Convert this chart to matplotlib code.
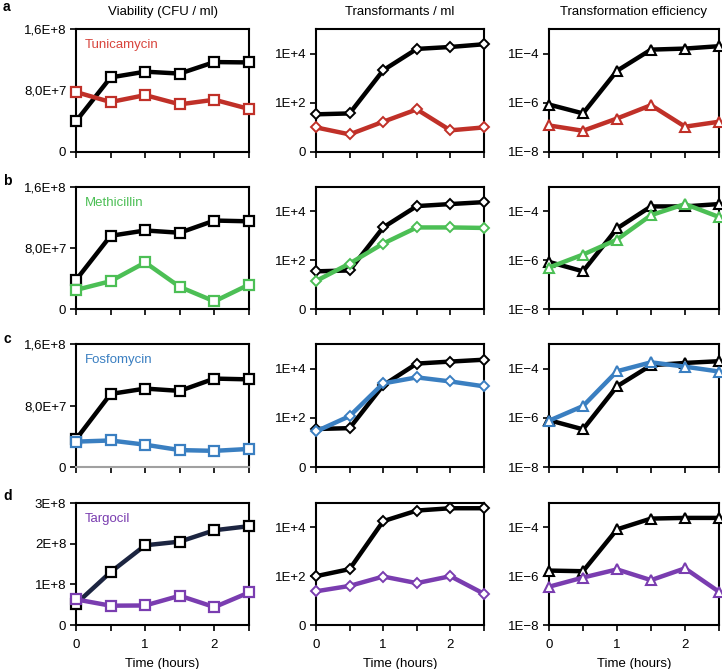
import matplotlib
matplotlib.use("Agg")
import matplotlib.pyplot as plt
import numpy as np

plt.rcParams['font.family'] = ['Liberation Sans', 'DejaVu Sans']

time = [0, 0.5, 1, 1.5, 2, 2.5]
panel_letters = ['a', 'b', 'c', 'd']
drugs = ['Tunicamycin', 'Methicillin', 'Fosfomycin', 'Targocil']
col_titles = ['Viability (CFU / ml)', 'Transformants / ml', 'Transformation efficiency']

# Viability (CFU/ml)
via_ctrl = [
    [4.0e7, 9.7e7, 1.045e8, 1.02e8, 1.17e8, 1.165e8],
    [3.8e7, 9.6e7, 1.03e8, 1.0e8, 1.16e8, 1.15e8],
    [3.6e7, 9.5e7, 1.02e8, 9.9e7, 1.15e8, 1.14e8],
    [5.2e7, 1.30e8, 1.96e8, 2.05e8, 2.33e8, 2.43e8],
]
via_drug = [
    [7.8e7, 6.5e7, 7.4e7, 6.2e7, 6.8e7, 5.6e7],
    [2.5e7, 3.65e7, 6.1e7, 2.9e7, 1.0e7, 3.2e7],
    [3.3e7, 3.45e7, 2.9e7, 2.2e7, 2.1e7, 2.35e7],
    [6.3e7, 4.75e7, 4.8e7, 7.2e7, 4.4e7, 8.0e7],
]
# Transformants / ml
trf_ctrl = [
    [34, 37, 2100, 15500, 18600, 24000],
    [35, 38, 2200, 16500, 20000, 24000],
    [35, 38, 2100, 16000, 19300, 23000],
    [100, 195, 18000, 49000, 61000, 61000],
]
trf_drug = [
    [10, 5.2, 17, 54, 7.6, 10],
    [14, 73, 480, 2200, 2200, 2100],
    [28, 117, 2500, 4400, 3000, 1900],
    [24, 40, 97, 52, 100, 19],
]
# Transformation efficiency
eff_ctrl = [
    [8.5e-7, 3.7e-7, 2.0e-5, 1.45e-4, 1.6e-4, 2.0e-4],
    [8.5e-7, 3.5e-7, 2.0e-5, 1.6e-4, 1.6e-4, 2.0e-4],
    [8.0e-7, 3.4e-7, 1.9e-5, 1.37e-4, 1.7e-4, 2.0e-4],
    [1.7e-6, 1.6e-6, 8.3e-5, 2.3e-4, 2.45e-4, 2.45e-4],
]
eff_drug = [
    [1.2e-7, 7.3e-8, 2.3e-7, 8.0e-7, 1.07e-7, 1.7e-7],
    [5.0e-7, 1.7e-6, 7.0e-6, 7.0e-5, 2.0e-4, 5.9e-5],
    [7.6e-7, 3.0e-6, 7.8e-5, 1.8e-4, 1.2e-4, 7.6e-5],
    [3.7e-7, 8.8e-7, 1.9e-6, 6.9e-7, 2.1e-6, 2.3e-7],
]

drug_colors = ['#c03028', '#4cbf55', '#3a7fc1', '#7a3db0']
label_colors = ['#d8443c', '#4cbf55', '#3a7fc1', '#7a3db0']

via_ticks = [[0, 8e7, 1.6e8], [0, 8e7, 1.6e8], [0, 8e7, 1.6e8], [0, 1e8, 2e8, 3e8]]
via_ticklabels = [['0', '8,0E+7', '1,6E+8']] * 3 + [['0', '1E+8', '2E+8', '3E+8']]
via_ylim = [1.6e8, 1.6e8, 1.6e8, 3e8]
trf_ticks = [1, 1e2, 1e4]
trf_ticklabels = ['0', '1E+2', '1E+4']
eff_ticks = [1e-8, 1e-6, 1e-4]
eff_ticklabels = ['1E\u22128', '1E\u22126', '1E\u22124']

W, H = 722, 669
fig = plt.figure(figsize=(W / 100, H / 100), dpi=100)

col_x = [(76, 249), (316, 484), (549, 719)]
row_y = [(29, 152), (187, 309), (344, 467), (503, 625)]
letter_y = [7, 181, 339, 496]

FS = 9.5

def make_ax(r, c):
    x0, x1 = col_x[c]
    y0, y1 = row_y[r]
    ax = fig.add_axes([x0 / W, 1 - y1 / H, (x1 - x0) / W, (y1 - y0) / H])
    for s in ax.spines.values():
        s.set_linewidth(1.5)
        s.set_color('black')
    ax.tick_params(direction='out', length=4, width=1.2, labelsize=FS, pad=3)
    ax.tick_params(axis='x', pad=6)
    ax.set_xlim(0, 2.5)
    ax.set_xticks(time)
    if r == 3:
        ax.set_xticklabels(['0', '', '1', '', '2', ''])
        ax.set_xlabel('Time (hours)', fontsize=FS, labelpad=5)
    else:
        ax.set_xticklabels([])
    return ax

lw = 3.2
ms = 7.5
for r in range(4):
    # Viability
    ax = make_ax(r, 0)
    ctrl_line = '#1c2541' if r == 3 else 'black'
    ax.plot(time, via_ctrl[r], color=ctrl_line, lw=lw, marker='s', ms=ms,
            mfc='white', mec='black', mew=1.6, clip_on=False, zorder=3)
    ax.plot(time, via_drug[r], color=drug_colors[r], lw=lw, marker='s', ms=ms,
            mfc='white', mec=drug_colors[r], mew=1.6, clip_on=False, zorder=4)
    ax.set_ylim(0, via_ylim[r])
    ax.set_yticks(via_ticks[r])
    ax.set_yticklabels(via_ticklabels[r])
    ax.text(0.05, 0.87, drugs[r], transform=ax.transAxes, color=label_colors[r],
            fontsize=FS, va='center', ha='left')
    if r == 2:
        ax.spines['bottom'].set_color('#a0a0a0')
    if r == 0:
        ax.set_title(col_titles[0], fontsize=FS, pad=10)
    fig.text(3 / W, 1 - letter_y[r] / H, panel_letters[r], fontsize=10,
             fontweight='bold', va='center', ha='left')

    # Transformants
    ax = make_ax(r, 1)
    ax.set_yscale('log')
    ax.plot(time, trf_ctrl[r], color='black', lw=lw, marker='D', ms=5.5,
            mfc='white', mec='black', mew=1.4, clip_on=False, zorder=3)
    ax.plot(time, trf_drug[r], color=drug_colors[r], lw=lw, marker='D', ms=5.5,
            mfc='white', mec=drug_colors[r], mew=1.4, clip_on=False, zorder=4)
    ax.set_ylim(1, 1e5)
    ax.set_yticks(trf_ticks)
    ax.set_yticklabels(trf_ticklabels)
    ax.minorticks_off()
    ax.set_xticks(time)
    if r == 0:
        ax.set_title(col_titles[1], fontsize=FS, pad=10)

    # Efficiency
    ax = make_ax(r, 2)
    ax.set_yscale('log')
    ax.plot(time, eff_ctrl[r], color='black', lw=lw, marker='^', ms=7.5,
            mfc='white', mec='black', mew=1.5, clip_on=False, zorder=3)
    ax.plot(time, eff_drug[r], color=drug_colors[r], lw=lw, marker='^', ms=7.5,
            mfc='white', mec=drug_colors[r], mew=1.5, clip_on=False, zorder=4)
    ax.set_ylim(1e-8, 1e-3)
    ax.set_yticks(eff_ticks)
    ax.set_yticklabels(eff_ticklabels)
    ax.minorticks_off()
    ax.set_xticks(time)
    if r == 0:
        ax.set_title(col_titles[2], fontsize=FS, pad=10)

fig.savefig('out.png', dpi=100)
